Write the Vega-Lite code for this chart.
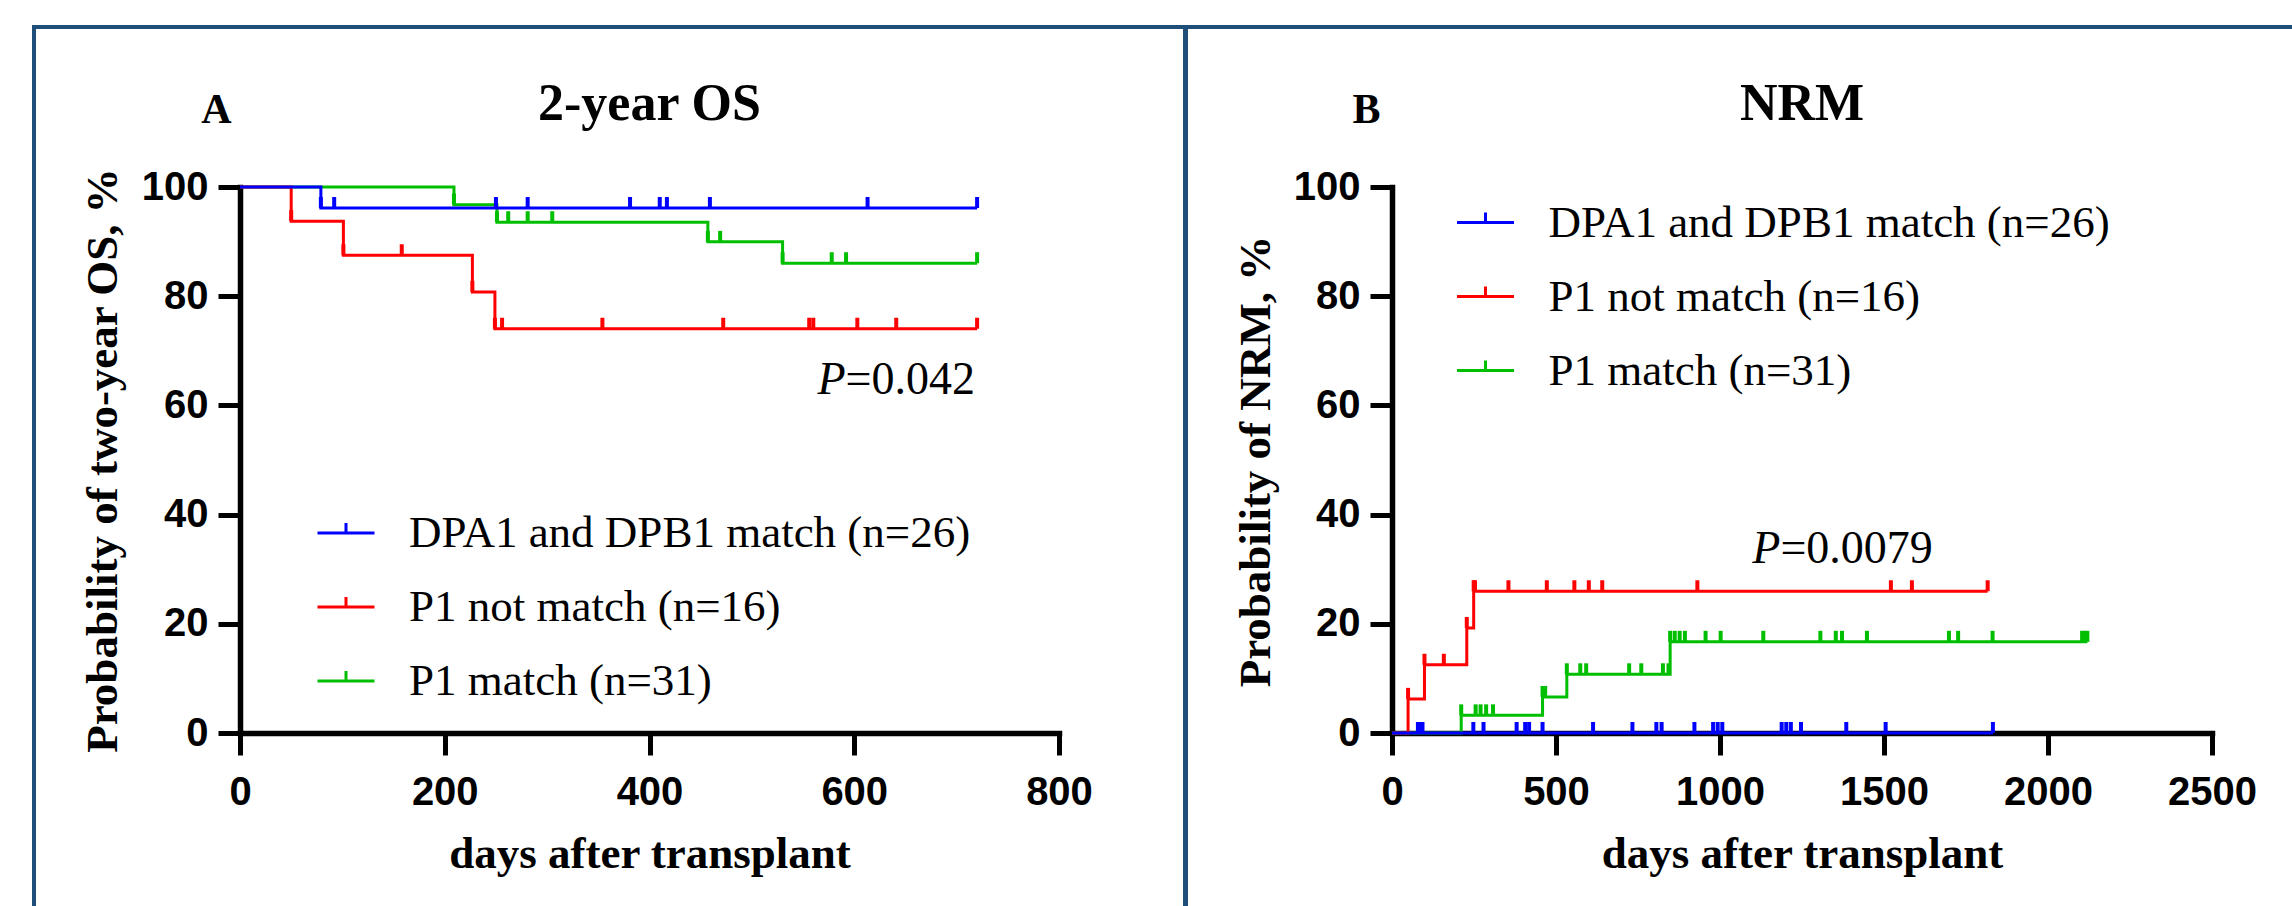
{
  "$schema": "https://vega.github.io/schema/vega-lite/v6.json",
  "background": "white",
  "padding": {"left": 32, "top": 25, "right": 0, "bottom": 0},
  "datasets": {
    "os_steps": [
      {"group": "P1 match (n=31)", "days": 0, "pct": 100},
      {"group": "P1 match (n=31)", "days": 209, "pct": 96.77},
      {"group": "P1 match (n=31)", "days": 251, "pct": 93.55},
      {"group": "P1 match (n=31)", "days": 457, "pct": 89.95},
      {"group": "P1 match (n=31)", "days": 530, "pct": 86.04},
      {"group": "P1 match (n=31)", "days": 720, "pct": 86.04},
      {"group": "P1 not match (n=16)", "days": 0, "pct": 100},
      {"group": "P1 not match (n=16)", "days": 50, "pct": 93.75},
      {"group": "P1 not match (n=16)", "days": 101, "pct": 87.5},
      {"group": "P1 not match (n=16)", "days": 227, "pct": 80.77},
      {"group": "P1 not match (n=16)", "days": 249, "pct": 74.04},
      {"group": "P1 not match (n=16)", "days": 720, "pct": 74.04},
      {"group": "DPA1 and DPB1 match (n=26)", "days": 0, "pct": 100},
      {"group": "DPA1 and DPB1 match (n=26)", "days": 79, "pct": 96.15},
      {"group": "DPA1 and DPB1 match (n=26)", "days": 720, "pct": 96.15}
    ],
    "os_ticks": [
      {"group": "P1 match (n=31)", "days": 209, "pct": 96.77},
      {"group": "P1 match (n=31)", "days": 251, "pct": 93.55},
      {"group": "P1 match (n=31)", "days": 262, "pct": 93.55},
      {"group": "P1 match (n=31)", "days": 281, "pct": 93.55},
      {"group": "P1 match (n=31)", "days": 305, "pct": 93.55},
      {"group": "P1 match (n=31)", "days": 457, "pct": 89.95},
      {"group": "P1 match (n=31)", "days": 469, "pct": 89.95},
      {"group": "P1 match (n=31)", "days": 530, "pct": 86.04},
      {"group": "P1 match (n=31)", "days": 578, "pct": 86.04},
      {"group": "P1 match (n=31)", "days": 592, "pct": 86.04},
      {"group": "P1 match (n=31)", "days": 720, "pct": 86.04},
      {"group": "P1 not match (n=16)", "days": 50, "pct": 93.75},
      {"group": "P1 not match (n=16)", "days": 101, "pct": 87.5},
      {"group": "P1 not match (n=16)", "days": 158, "pct": 87.5},
      {"group": "P1 not match (n=16)", "days": 227, "pct": 80.77},
      {"group": "P1 not match (n=16)", "days": 249, "pct": 74.04},
      {"group": "P1 not match (n=16)", "days": 256, "pct": 74.04},
      {"group": "P1 not match (n=16)", "days": 354, "pct": 74.04},
      {"group": "P1 not match (n=16)", "days": 472, "pct": 74.04},
      {"group": "P1 not match (n=16)", "days": 556, "pct": 74.04},
      {"group": "P1 not match (n=16)", "days": 560, "pct": 74.04},
      {"group": "P1 not match (n=16)", "days": 603, "pct": 74.04},
      {"group": "P1 not match (n=16)", "days": 641, "pct": 74.04},
      {"group": "P1 not match (n=16)", "days": 720, "pct": 74.04},
      {"group": "DPA1 and DPB1 match (n=26)", "days": 79, "pct": 96.15},
      {"group": "DPA1 and DPB1 match (n=26)", "days": 92, "pct": 96.15},
      {"group": "DPA1 and DPB1 match (n=26)", "days": 250, "pct": 96.15},
      {"group": "DPA1 and DPB1 match (n=26)", "days": 281, "pct": 96.15},
      {"group": "DPA1 and DPB1 match (n=26)", "days": 381, "pct": 96.15},
      {"group": "DPA1 and DPB1 match (n=26)", "days": 410, "pct": 96.15},
      {"group": "DPA1 and DPB1 match (n=26)", "days": 417, "pct": 96.15},
      {"group": "DPA1 and DPB1 match (n=26)", "days": 459, "pct": 96.15},
      {"group": "DPA1 and DPB1 match (n=26)", "days": 613, "pct": 96.15},
      {"group": "DPA1 and DPB1 match (n=26)", "days": 720, "pct": 96.15}
    ],
    "os_p": [{"days": 718, "pct": 62.1, "p": "P", "rest": "=0.042"}],
    "nrm_steps": [
      {"group": "P1 match (n=31)", "days": 0, "pct": 0},
      {"group": "P1 match (n=31)", "days": 211, "pct": 3.23},
      {"group": "P1 match (n=31)", "days": 459, "pct": 6.6},
      {"group": "P1 match (n=31)", "days": 533, "pct": 10.75},
      {"group": "P1 match (n=31)", "days": 848, "pct": 16.7},
      {"group": "P1 match (n=31)", "days": 2120, "pct": 16.7},
      {"group": "P1 not match (n=16)", "days": 0, "pct": 0},
      {"group": "P1 not match (n=16)", "days": 49, "pct": 6.25},
      {"group": "P1 not match (n=16)", "days": 99, "pct": 12.5},
      {"group": "P1 not match (n=16)", "days": 228, "pct": 19.23},
      {"group": "P1 not match (n=16)", "days": 249, "pct": 25.96},
      {"group": "P1 not match (n=16)", "days": 1816, "pct": 25.96},
      {"group": "DPA1 and DPB1 match (n=26)", "days": 0, "pct": 0},
      {"group": "DPA1 and DPB1 match (n=26)", "days": 1832, "pct": 0}
    ],
    "nrm_ticks": [
      {"group": "P1 match (n=31)", "days": 211, "pct": 3.23},
      {"group": "P1 match (n=31)", "days": 255, "pct": 3.23},
      {"group": "P1 match (n=31)", "days": 270, "pct": 3.23},
      {"group": "P1 match (n=31)", "days": 287, "pct": 3.23},
      {"group": "P1 match (n=31)", "days": 308, "pct": 3.23},
      {"group": "P1 match (n=31)", "days": 459, "pct": 6.6},
      {"group": "P1 match (n=31)", "days": 467, "pct": 6.6},
      {"group": "P1 match (n=31)", "days": 533, "pct": 10.75},
      {"group": "P1 match (n=31)", "days": 574, "pct": 10.75},
      {"group": "P1 match (n=31)", "days": 592, "pct": 10.75},
      {"group": "P1 match (n=31)", "days": 723, "pct": 10.75},
      {"group": "P1 match (n=31)", "days": 760, "pct": 10.75},
      {"group": "P1 match (n=31)", "days": 826, "pct": 10.75},
      {"group": "P1 match (n=31)", "days": 843, "pct": 10.75},
      {"group": "P1 match (n=31)", "days": 848, "pct": 16.7},
      {"group": "P1 match (n=31)", "days": 862, "pct": 16.7},
      {"group": "P1 match (n=31)", "days": 877, "pct": 16.7},
      {"group": "P1 match (n=31)", "days": 893, "pct": 16.7},
      {"group": "P1 match (n=31)", "days": 956, "pct": 16.7},
      {"group": "P1 match (n=31)", "days": 1002, "pct": 16.7},
      {"group": "P1 match (n=31)", "days": 1132, "pct": 16.7},
      {"group": "P1 match (n=31)", "days": 1306, "pct": 16.7},
      {"group": "P1 match (n=31)", "days": 1353, "pct": 16.7},
      {"group": "P1 match (n=31)", "days": 1372, "pct": 16.7},
      {"group": "P1 match (n=31)", "days": 1448, "pct": 16.7},
      {"group": "P1 match (n=31)", "days": 1698, "pct": 16.7},
      {"group": "P1 match (n=31)", "days": 1726, "pct": 16.7},
      {"group": "P1 match (n=31)", "days": 1831, "pct": 16.7},
      {"group": "P1 match (n=31)", "days": 2104, "pct": 16.7},
      {"group": "P1 match (n=31)", "days": 2112, "pct": 16.7},
      {"group": "P1 match (n=31)", "days": 2120, "pct": 16.7},
      {"group": "P1 not match (n=16)", "days": 49, "pct": 6.25},
      {"group": "P1 not match (n=16)", "days": 99, "pct": 12.5},
      {"group": "P1 not match (n=16)", "days": 158, "pct": 12.5},
      {"group": "P1 not match (n=16)", "days": 228, "pct": 19.23},
      {"group": "P1 not match (n=16)", "days": 249, "pct": 25.96},
      {"group": "P1 not match (n=16)", "days": 253, "pct": 25.96},
      {"group": "P1 not match (n=16)", "days": 355, "pct": 25.96},
      {"group": "P1 not match (n=16)", "days": 472, "pct": 25.96},
      {"group": "P1 not match (n=16)", "days": 556, "pct": 25.96},
      {"group": "P1 not match (n=16)", "days": 600, "pct": 25.96},
      {"group": "P1 not match (n=16)", "days": 641, "pct": 25.96},
      {"group": "P1 not match (n=16)", "days": 931, "pct": 25.96},
      {"group": "P1 not match (n=16)", "days": 1521, "pct": 25.96},
      {"group": "P1 not match (n=16)", "days": 1585, "pct": 25.96},
      {"group": "P1 not match (n=16)", "days": 1816, "pct": 25.96},
      {"group": "DPA1 and DPB1 match (n=26)", "days": 79, "pct": 0},
      {"group": "DPA1 and DPB1 match (n=26)", "days": 86, "pct": 0},
      {"group": "DPA1 and DPB1 match (n=26)", "days": 93, "pct": 0},
      {"group": "DPA1 and DPB1 match (n=26)", "days": 248, "pct": 0},
      {"group": "DPA1 and DPB1 match (n=26)", "days": 279, "pct": 0},
      {"group": "DPA1 and DPB1 match (n=26)", "days": 380, "pct": 0},
      {"group": "DPA1 and DPB1 match (n=26)", "days": 406, "pct": 0},
      {"group": "DPA1 and DPB1 match (n=26)", "days": 418, "pct": 0},
      {"group": "DPA1 and DPB1 match (n=26)", "days": 459, "pct": 0},
      {"group": "DPA1 and DPB1 match (n=26)", "days": 613, "pct": 0},
      {"group": "DPA1 and DPB1 match (n=26)", "days": 733, "pct": 0},
      {"group": "DPA1 and DPB1 match (n=26)", "days": 806, "pct": 0},
      {"group": "DPA1 and DPB1 match (n=26)", "days": 822, "pct": 0},
      {"group": "DPA1 and DPB1 match (n=26)", "days": 922, "pct": 0},
      {"group": "DPA1 and DPB1 match (n=26)", "days": 979, "pct": 0},
      {"group": "DPA1 and DPB1 match (n=26)", "days": 993, "pct": 0},
      {"group": "DPA1 and DPB1 match (n=26)", "days": 1007, "pct": 0},
      {"group": "DPA1 and DPB1 match (n=26)", "days": 1188, "pct": 0},
      {"group": "DPA1 and DPB1 match (n=26)", "days": 1202, "pct": 0},
      {"group": "DPA1 and DPB1 match (n=26)", "days": 1216, "pct": 0},
      {"group": "DPA1 and DPB1 match (n=26)", "days": 1247, "pct": 0},
      {"group": "DPA1 and DPB1 match (n=26)", "days": 1385, "pct": 0},
      {"group": "DPA1 and DPB1 match (n=26)", "days": 1505, "pct": 0},
      {"group": "DPA1 and DPB1 match (n=26)", "days": 1832, "pct": 0}
    ],
    "nrm_p": [{"days": 1649, "pct": 31.2, "p": "P", "rest": "=0.0079"}]
  },
  "config": {
    "view": {"stroke": null},
    "axis": {
      "domainColor": "black", "domainWidth": 5.5, "domainCap": "square",
      "tickColor": "black", "tickWidth": 5, "tickSize": 22,
      "labelFont": "Liberation Sans", "labelFontWeight": "bold", "labelFontSize": 40, "labelColor": "black",
      "labelFlush": false, "labelOverlap": false,
      "titleFont": "Liberation Serif", "titleFontWeight": "bold", "titleFontSize": 45, "titleColor": "black",
      "grid": false
    },
    "legend": {
      "title": null, "orient": "none", "padding": 0,
      "symbolType": "M-1,0H1M0,0V-0.35", "symbolSize": 3249, "symbolStrokeWidth": 3,
      "labelFont": "Liberation Serif", "labelFontSize": 45, "labelColor": "black",
      "labelOffset": 33, "labelLimit": 2000, "rowPadding": 21
    }
  },
  "spacing": 0,
  "bounds": "flush",
  "align": "each",
  "columns": 8,
  "resolve": {"scale": {"color": "independent"}},
  "concat": [
    {"width": 4, "height": 4, "data": {"values": []}, "mark": "point", "view": {"fill": "#1F4E79"}},
    {"width": 204, "height": 4, "data": {"values": []}, "mark": "point", "view": {"fill": "#1F4E79"}},
    {"width": 819, "height": 4, "data": {"values": []}, "mark": "point", "view": {"fill": "#1F4E79"}},
    {"width": 124, "height": 4, "data": {"values": []}, "mark": "point", "view": {"fill": "#1F4E79"}},
    {"width": 5, "height": 4, "data": {"values": []}, "mark": "point", "view": {"fill": "#1F4E79"}},
    {"width": 204, "height": 4, "data": {"values": []}, "mark": "point", "view": {"fill": "#1F4E79"}},
    {"width": 820, "height": 4, "data": {"values": []}, "mark": "point", "view": {"fill": "#1F4E79"}},
    {"width": 80, "height": 4, "data": {"values": []}, "mark": "point", "view": {"fill": "#1F4E79"}},

    {"width": 4, "height": 158, "data": {"values": []}, "mark": "point", "view": {"fill": "#1F4E79"}},
    {"width": 204, "height": 158, "data": {"values": []}, "mark": "point"},
    {"width": 819, "height": 158, "data": {"values": []}, "mark": "point"},
    {"width": 124, "height": 158, "data": {"values": []}, "mark": "point"},
    {"width": 5, "height": 158, "data": {"values": []}, "mark": "point", "view": {"fill": "#1F4E79"}},
    {"width": 204, "height": 158, "data": {"values": []}, "mark": "point"},
    {"width": 820, "height": 158, "data": {"values": []}, "mark": "point"},
    {"width": 80, "height": 158, "data": {"values": []}, "mark": "point"},

    {"width": 4, "height": 546, "data": {"values": []}, "mark": "point", "view": {"fill": "#1F4E79"}},
    {"width": 204, "height": 546, "data": {"values": []}, "mark": "point"},
    {
      "width": 819,
      "height": 546,
      "title": {"text": "2-year OS", "font": "Liberation Serif", "fontWeight": "bold", "fontSize": 52, "color": "black", "anchor": "middle", "frame": "group", "baseline": "alphabetic", "offset": -84},
      "encoding": {
        "y": {"field": "pct", "type": "quantitative", "scale": {"domain": [0, 100], "nice": false},
          "axis": {"orient": "left", "values": [0, 20, 40, 60, 80, 100], "format": "d", "labelPadding": 10, "title": "Probability of two-year OS, %", "titleX": -138, "titleY": 273, "titleBaseline": "middle", "titleAlign": "center", "titleAngle": -90}}
      },
      "layer": [
        {
          "data": {"name": "os_steps"},
          "mark": {"type": "line", "interpolate": "step-after", "strokeWidth": 3},
          "encoding": {
            "x": {"field": "days", "type": "quantitative", "scale": {"domain": [0, 800], "nice": false, "zero": false},
              "axis": {"orient": "bottom", "values": [0, 200, 400, 600, 800], "format": "d", "labelPadding": 17, "title": "days after transplant", "titleX": 409.5, "titleY": 134, "titleBaseline": "alphabetic", "titleAlign": "center"}},
            "color": {"field": "group", "type": "nominal",
              "scale": {"domain": ["DPA1 and DPB1 match (n=26)", "P1 not match (n=16)", "P1 match (n=31)"], "range": ["#0000FF", "#FF0000", "#00BE00"]},
              "legend": {"orient": "none", "legendX": 76, "legendY": 316}}
          }
        },
        {
          "data": {"name": "os_ticks"},
          "mark": {"type": "point", "shape": "M0,0V-1", "size": 484, "strokeWidth": 4, "filled": false, "opacity": 1},
          "encoding": {
            "x": {"field": "days", "type": "quantitative", "axis": {"orient": "bottom", "domain": false, "ticks": false, "labels": false, "title": null}},
            "color": {"field": "group", "type": "nominal", "legend": null}
          }
        },
        {
          "data": {"name": "os_p"},
          "mark": {"type": "text", "align": "right", "baseline": "alphabetic", "font": "Liberation Serif", "fontSize": 46, "color": "black"},
          "encoding": {
            "x": {"field": "days", "type": "quantitative", "axis": {"orient": "bottom", "domain": false, "ticks": false, "labels": false, "title": null}},
            "text": {"field": "rest"}
          }
        },
        {
          "data": {"name": "os_p"},
          "mark": {"type": "text", "align": "right", "baseline": "alphabetic", "font": "Liberation Serif", "fontStyle": "italic", "fontSize": 46, "color": "black", "dx": -129.4},
          "encoding": {
            "x": {"field": "days", "type": "quantitative",
              "axis": {"orient": "top", "domain": false, "ticks": false, "labels": false, "grid": false, "title": "A", "titleFontSize": 42, "titleX": -24, "titleY": -65, "titleAlign": "center", "titleBaseline": "alphabetic"}},
            "text": {"field": "p"}
          }
        }
      ]
    },
    {"width": 124, "height": 546, "data": {"values": []}, "mark": "point"},
    {"width": 5, "height": 546, "data": {"values": []}, "mark": "point", "view": {"fill": "#1F4E79"}},
    {"width": 204, "height": 546, "data": {"values": []}, "mark": "point"},
    {
      "width": 820,
      "height": 546,
      "title": {"text": "NRM", "font": "Liberation Serif", "fontWeight": "bold", "fontSize": 52, "color": "black", "anchor": "middle", "frame": "group", "baseline": "alphabetic", "offset": -84},
      "encoding": {
        "y": {"field": "pct", "type": "quantitative", "scale": {"domain": [0, 100], "nice": false},
          "axis": {"orient": "left", "values": [0, 20, 40, 60, 80, 100], "format": "d", "labelPadding": 10, "title": "Probability of NRM, %", "titleX": -137, "titleY": 274, "titleBaseline": "middle", "titleAlign": "center", "titleAngle": -90}}
      },
      "layer": [
        {
          "data": {"name": "nrm_steps"},
          "mark": {"type": "line", "interpolate": "step-after", "strokeWidth": 3},
          "encoding": {
            "x": {"field": "days", "type": "quantitative", "scale": {"domain": [0, 2500], "nice": false, "zero": false},
              "axis": {"orient": "bottom", "values": [0, 500, 1000, 1500, 2000, 2500], "format": "d", "labelPadding": 17, "title": "days after transplant", "titleX": 410, "titleY": 134, "titleBaseline": "alphabetic", "titleAlign": "center"}},
            "color": {"field": "group", "type": "nominal",
              "scale": {"domain": ["DPA1 and DPB1 match (n=26)", "P1 not match (n=16)", "P1 match (n=31)"], "range": ["#0000FF", "#FF0000", "#00BE00"]},
              "legend": {"orient": "none", "legendX": 63.5, "legendY": 5.5}}
          }
        },
        {
          "data": {"name": "nrm_ticks"},
          "mark": {"type": "point", "shape": "M0,0V-1", "size": 484, "strokeWidth": 4, "filled": false, "opacity": 1},
          "encoding": {
            "x": {"field": "days", "type": "quantitative", "axis": {"orient": "bottom", "domain": false, "ticks": false, "labels": false, "title": null}},
            "color": {"field": "group", "type": "nominal", "legend": null}
          }
        },
        {
          "data": {"name": "nrm_p"},
          "mark": {"type": "text", "align": "right", "baseline": "alphabetic", "font": "Liberation Serif", "fontSize": 46, "color": "black"},
          "encoding": {
            "x": {"field": "days", "type": "quantitative", "axis": {"orient": "bottom", "domain": false, "ticks": false, "labels": false, "title": null}},
            "text": {"field": "rest"}
          }
        },
        {
          "data": {"name": "nrm_p"},
          "mark": {"type": "text", "align": "right", "baseline": "alphabetic", "font": "Liberation Serif", "fontStyle": "italic", "fontSize": 46, "color": "black", "dx": -152.4},
          "encoding": {
            "x": {"field": "days", "type": "quantitative",
              "axis": {"orient": "top", "domain": false, "ticks": false, "labels": false, "grid": false, "title": "B", "titleFontSize": 42, "titleX": -26, "titleY": -65, "titleAlign": "center", "titleBaseline": "alphabetic"}},
            "text": {"field": "p"}
          }
        }
      ]
    },
    {"width": 80, "height": 546, "data": {"values": []}, "mark": "point"},

    {"width": 4, "height": 173, "data": {"values": []}, "mark": "point", "view": {"fill": "#1F4E79"}},
    {"width": 204, "height": 173, "data": {"values": []}, "mark": "point"},
    {"width": 819, "height": 173, "data": {"values": []}, "mark": "point"},
    {"width": 124, "height": 173, "data": {"values": []}, "mark": "point"},
    {"width": 5, "height": 173, "data": {"values": []}, "mark": "point", "view": {"fill": "#1F4E79"}},
    {"width": 204, "height": 173, "data": {"values": []}, "mark": "point"},
    {"width": 820, "height": 173, "data": {"values": []}, "mark": "point"},
    {"width": 80, "height": 173, "data": {"values": []}, "mark": "point"}
  ]
}
